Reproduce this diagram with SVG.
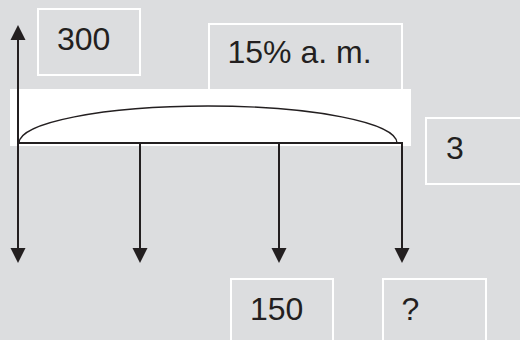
<svg xmlns="http://www.w3.org/2000/svg" width="520" height="340" viewBox="0 0 520 340">
<style>
.box{fill:#dcdddf;stroke:#ffffff;stroke-width:2}
.lbl{font-family:"Liberation Sans",Arial,sans-serif;font-size:32px;fill:#231f20}
.ln{stroke:#231f20;stroke-width:2;fill:none}
.ah{fill:#231f20}
</style>
<rect width="520" height="340" fill="#dcdddf"/>
<g id="box-300"><rect class="box" x="38" y="9" width="102" height="66"/><text class="lbl" x="57" y="50">300</text></g>
<g id="box-rate"><rect class="box" x="209" y="24" width="193" height="72"/><text class="lbl" x="227.5" y="63">15% a. m.</text></g>
<g id="band"><rect x="10" y="89" width="401" height="57" fill="#ffffff"/></g>
<g id="box-3"><rect class="box" x="426" y="118" width="100" height="66"/><text class="lbl" x="446" y="159">3</text></g>
<g id="box-150"><rect class="box" x="231" y="279" width="102" height="70"/><text class="lbl" x="250" y="320">150</text></g>
<g id="box-q"><rect class="box" x="383" y="279" width="103" height="70"/><text class="lbl" x="401.5" y="320">?</text></g>
<g id="connectors">
<path d="M19,143 A189,37 0 0 1 397,143" stroke="#231f20" stroke-width="1.4" fill="none"/>
<line class="ln" x1="18" y1="143" x2="402" y2="143"/>
<line class="ln" x1="18" y1="38" x2="18" y2="250"/>
<polygon class="ah" points="18,25 10.5,40 25.5,40"/>
<polygon class="ah" points="18,263 10.5,248 25.5,248"/>
<line class="ln" x1="140" y1="143" x2="140" y2="250"/>
<polygon class="ah" points="140,263 132.5,248 147.5,248"/>
<line class="ln" x1="279" y1="143" x2="279" y2="250"/>
<polygon class="ah" points="279,263 271.5,248 286.5,248"/>
<line class="ln" x1="402" y1="142" x2="402" y2="250"/>
<polygon class="ah" points="402,263 394.5,248 409.5,248"/>
</g>
</svg>
